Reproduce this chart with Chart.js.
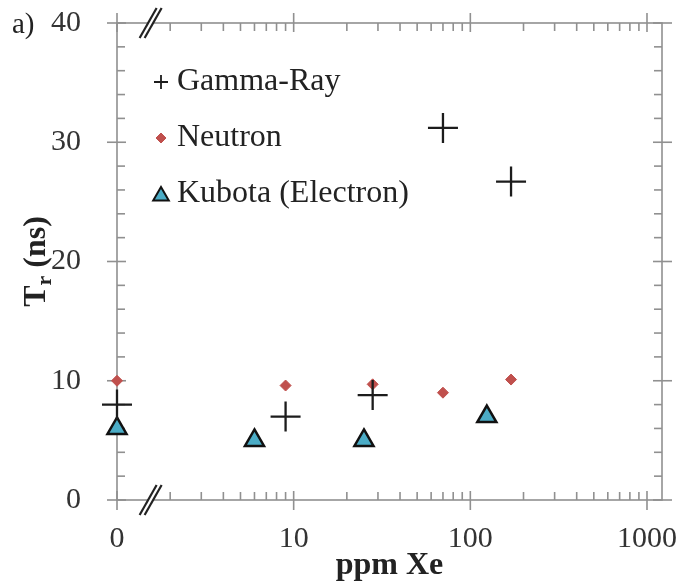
<!DOCTYPE html>
<html>
<head>
<meta charset="utf-8">
<script src="https://cdn.jsdelivr.net/npm/chart.js@4.4.0/dist/chart.umd.min.js"></script>
<style>
  html, body { margin: 0; padding: 0; background: #fff; }
  #wrap { width: 684px; height: 588px; }
</style>
</head>
<body>
<div id="wrap"><canvas id="c"></canvas></div>
<script>
// valores (ppm Xe; o 0 fica na posição do 1 no eixo log)
const gammaX = [0, 9, 28, 70, 170];
const gammaY = [8.0, 7.0, 8.8, 31.2, 26.7];
const neutronX = [0, 9, 28, 70, 170];
const neutronY = [10.0, 9.6, 9.7, 9.0, 10.1];
const kubotaX = [0, 6, 25, 124];
const kubotaY = [6.0, 5.0, 5.0, 7.0];
const xTicks = [0, 10, 100, 1000];
const yTicks = [0, 10, 20, 30, 40];
const seriesNames = ['Gamma-Ray', 'Neutron', 'Kubota (Electron)'];

const serif = "'Liberation Serif', 'Times New Roman', serif";
const axisColor = '#909090';
const breakAt = 1.55; // onde fica o "//" no eixo x

const toLog = v => (v === 0 ? 1 : v);
const pts = (xs, ys) => xs.map((x, i) => ({ x: toLog(x), y: ys[i] }));

function line(ctx, x1, y1, x2, y2) {
  ctx.beginPath();
  ctx.moveTo(x1, y1);
  ctx.lineTo(x2, y2);
  ctx.stroke();
}

// moldura, marcas dos eixos e quebra do eixo
const framePlugin = {
  id: 'frame',
  beforeDatasetsDraw(chart) {
    const { ctx, chartArea: a, scales: { x, y } } = chart;
    ctx.save();
    ctx.strokeStyle = axisColor;
    ctx.lineWidth = 1.6;
    ctx.strokeRect(a.left, a.top, a.right - a.left, a.bottom - a.top);

    xTicks.forEach(t => {
      const px = x.getPixelForValue(toLog(t));
      line(ctx, px, a.bottom - 9, px, a.bottom + 10);
      line(ctx, px, a.top - 10, px, a.top + 9);
    });
    for (let d = 1; d <= 100; d *= 10) {
      for (let k = 2; k <= 9; k++) {
        const v = k * d;
        if (v > x.max) continue;
        const px = x.getPixelForValue(v);
        line(ctx, px, a.bottom - 8, px, a.bottom);
        line(ctx, px, a.top, px, a.top + 8);
      }
    }
    yTicks.forEach(t => {
      const py = y.getPixelForValue(t);
      line(ctx, a.left - 10, py, a.left + 9, py);
      line(ctx, a.right - 9, py, a.right + 10, py);
    });
    for (let v = 2; v < 40; v += 2) {
      if (v % 10 === 0) continue;
      const py = y.getPixelForValue(v);
      line(ctx, a.left, py, a.left + 8, py);
      line(ctx, a.right - 8, py, a.right, py);
    }

    // quebra "//"
    const bx = x.getPixelForValue(breakAt);
    [a.top, a.bottom].forEach(yy => {
      ctx.fillStyle = '#fff';
      ctx.beginPath();
      ctx.moveTo(bx - 11, yy + 15);
      ctx.lineTo(bx + 6, yy - 15);
      ctx.lineTo(bx + 11, yy - 15);
      ctx.lineTo(bx - 6, yy + 15);
      ctx.closePath();
      ctx.fill();
      ctx.strokeStyle = '#222';
      ctx.lineWidth = 2.2;
      line(ctx, bx - 11, yy + 15, bx + 6, yy - 15);
      line(ctx, bx - 6, yy + 15, bx + 11, yy - 15);
    });
    ctx.restore();
  },
  afterDraw(chart) {
    const { ctx, chartArea: a } = chart;
    ctx.save();
    ctx.fillStyle = '#222';

    // a)
    ctx.font = '29px ' + serif;
    ctx.textAlign = 'left';
    ctx.textBaseline = 'alphabetic';
    ctx.fillText('a)', 12, 33);

    // titulo eixo x
    ctx.font = 'bold 32px ' + serif;
    ctx.textAlign = 'center';
    ctx.textBaseline = 'middle';
    ctx.fillText('ppm Xe', (a.left + a.right) / 2, a.bottom + 66);

    // titulo eixo y: T com r subscrito
    ctx.save();
    ctx.translate(45, (a.top + a.bottom) / 2);
    ctx.rotate(-Math.PI / 2);
    ctx.textAlign = 'left';
    ctx.textBaseline = 'alphabetic';
    const big = 'bold 32px ' + serif, small = 'bold 22px ' + serif;
    ctx.font = big; const wT = ctx.measureText('T').width;
    ctx.font = small; const wr = ctx.measureText('r').width;
    ctx.font = big; const wRest = ctx.measureText(' (ns)').width;
    let sx = -(wT + wr + wRest) / 2;
    ctx.fillText('T', sx, 0); sx += wT;
    ctx.font = small; ctx.fillText('r', sx, 6); sx += wr;
    ctx.font = big; ctx.fillText(' (ns)', sx, 0);
    ctx.restore();

    // legenda dentro do gráfico
    const legendMarks = [
      { pointStyle: 'cross', radius: 7, borderWidth: 1.8, fill: '#1c1c1c', stroke: '#1c1c1c' },
      { pointStyle: 'rectRot', radius: 5, borderWidth: 1, fill: '#c0504d', stroke: '#c0504d' },
      { pointStyle: 'triangle', radius: 9, borderWidth: 2, fill: '#4bacc6', stroke: '#111' }
    ];
    ctx.font = '32px ' + serif;
    ctx.textAlign = 'left';
    ctx.textBaseline = 'middle';
    seriesNames.forEach((name, i) => {
      const ly = a.top + 59 + i * 56;
      const m = legendMarks[i];
      ctx.fillStyle = m.fill;
      ctx.strokeStyle = m.stroke;
      ctx.lineWidth = m.borderWidth;
      Chart.helpers.drawPoint(ctx, { pointStyle: m.pointStyle, radius: m.radius, rotation: 0, borderWidth: m.borderWidth }, a.left + 44, ly + (i === 2 ? 2 : 0));
      ctx.fillStyle = '#222';
      ctx.fillText(name, a.left + 60, ly);
    });
    ctx.restore();
  }
};

new Chart(document.getElementById('c'), {
  type: 'scatter',
  data: {
    datasets: [
      {
        label: seriesNames[0],
        data: pts(gammaX, gammaY),
        pointStyle: 'cross',
        pointRadius: 15,
        borderColor: '#1c1c1c',
        backgroundColor: '#1c1c1c',
        pointBorderWidth: 2.3,
        clip: false
      },
      {
        label: seriesNames[1],
        data: pts(neutronX, neutronY),
        pointStyle: 'rectRot',
        pointRadius: 5.5,
        borderColor: '#c0504d',
        backgroundColor: '#c0504d',
        pointBorderWidth: 1,
        clip: false
      },
      {
        label: seriesNames[2],
        data: pts(kubotaX, kubotaY),
        pointStyle: 'triangle',
        pointRadius: 11,
        borderColor: '#111',
        backgroundColor: '#4bacc6',
        pointBorderWidth: 2.5,
        clip: false
      }
    ]
  },
  options: {
    responsive: true,
    maintainAspectRatio: false,
    animation: false,
    layout: { padding: { left: 0, top: 23, right: 22, bottom: 0 } },
    plugins: { legend: { display: false }, tooltip: { enabled: false } },
    scales: {
      x: {
        type: 'logarithmic',
        min: 1,
        max: 1216,
        grid: { display: false },
        border: { display: false },
        afterBuildTicks: s => { s.ticks = xTicks.map(v => ({ value: toLog(v) })); },
        afterFit: s => { s.height = 88; s.paddingLeft = 0; s.paddingRight = 0; },
        ticks: {
          autoSkip: false,
          maxRotation: 0,
          padding: 13,
          color: '#333',
          font: { family: serif, size: 30 },
          callback: v => (v === 1 ? '0' : String(v))
        }
      },
      y: {
        min: 0,
        max: 40,
        grid: { display: false },
        border: { display: false },
        afterFit: s => { s.width = 117; s.paddingTop = 0; s.paddingBottom = 0; },
        ticks: {
          stepSize: 10,
          padding: 28,
          color: '#333',
          font: { family: serif, size: 30 }
        }
      }
    }
  },
  plugins: [framePlugin]
});
</script>
</body>
</html>
